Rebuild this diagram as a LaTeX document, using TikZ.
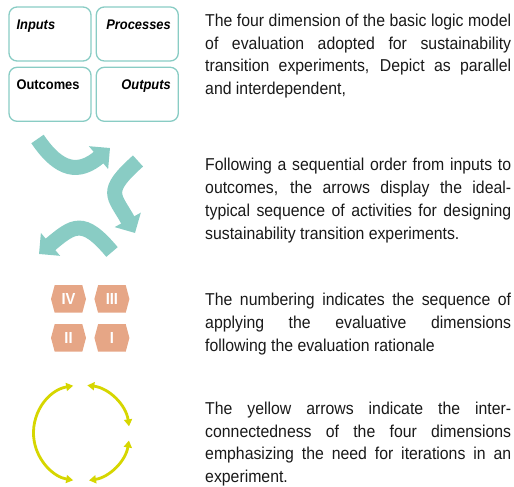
\documentclass[tikz,border=0pt]{standalone}
\usepackage{fontspec}
\setmainfont{Liberation Sans}[FakeStretch=0.92]
\usepackage{tikz}
\usetikzlibrary{arrows.meta,positioning,shapes.symbols}
\definecolor{logicteal}{RGB}{137,204,196}
\definecolor{stepsalmon}{RGB}{230,166,134}
\definecolor{loopyellow}{RGB}{214,214,0}

\begin{document}
\begin{tikzpicture}[x=1pt, y=1pt,
  dim/.style={rectangle, rounded corners=8pt, draw=logicteal, line width=1.3pt,
    minimum width=82pt, minimum height=54pt, inner sep=0pt},
  dimtag/.style={font=\fontsize{14}{16}\selectfont\bfseries, inner xsep=8pt, inner ysep=13pt},
  note/.style={text width=306pt, align=justify, inner sep=0pt, anchor=base west, text=black!90,
    font=\fontsize{17.2}{22.7}\selectfont,
    execute at begin node={\tolerance=10000\relax\hyphenpenalty=10000\relax}},
  tile/.style={signal, signal to=west and east, signal pointer angle=150, fill=stepsalmon,
    text=white, minimum width=35pt, text height=11.5pt, text depth=0pt, inner ysep=8pt,
    inner xsep=0pt, font=\fontsize{16}{16}\selectfont\bfseries},
  flow/.style={logicteal, line width=15pt, -{Triangle[width=29pt, length=15pt]}},
  loop/.style={loopyellow, line width=2.8pt,
    {Triangle[width=8pt, length=7pt]}-{Triangle[width=8pt, length=7pt]}}]
\useasboundingbox (0,0) rectangle (514,487);

% logic model: four dimensions
\node[dim] (inp) at (50,453) {};
\node[dim, right=4pt of inp] (proc) {};
\node[dim, below=5pt of inp] (outc) {};
\node[dim, right=4pt of outc] (outp) {};
\node[dimtag, anchor=north west] (inptag) at (inp.north west) {\itshape Inputs};
\node[dimtag, anchor=north east] (proctag) at (proc.north east) {\itshape Processes};
\node[dimtag, anchor=north west] (outctag) at (outc.north west) {Outcomes};
\node[dimtag, anchor=north east] (outptag) at (outp.north east) {\itshape Outputs};

% sequence arrows
\draw[flow] (37.5,348) .. controls (59.9,314.8) and (79.4,313.3) .. (110,339);
\draw[flow] (138,326) .. controls (103,294.7) and (114,292) .. (135,254);
\draw[flow] (112,235) .. controls (83.1,269.5) and (73.5,261.9) .. (39,233);

% numbering
\node[tile] (t4) at (68.5,188) {IV};
\node[tile, right=8pt of t4] (t3) {III};
\node[tile, below=11pt of t4] (t2) {II};
\node[tile, right=8pt of t2] (t1) {I};

% iteration loop
\coordinate (hub) at (81.5,54);
\draw[loop] ([shift={(100:48)}]hub) arc[start angle=100, end angle=260, radius=48];
\draw[loop] ([shift={(83:48)}]hub) arc[start angle=83, end angle=8, radius=48];
\draw[loop] ([shift={(-9:48)}]hub) arc[start angle=-9, end angle=-81, radius=48];

% explanations
\node[note] (n1) at (205,460.5) {The four dimension of the basic logic model\linebreak
  of evaluation adopted for sustainability\linebreak
  transition experiments, Depict as parallel\linebreak
  and interdependent,};
\node[note] (n2) at (205,316) {Following a sequential order from inputs to\linebreak
  outcomes, the arrows display the ideal-\linebreak
  typical sequence of activities for designing\linebreak
  sustainability transition experiments.};
\node[note] (n3) at (205,181) {The numbering indicates the sequence of\linebreak
  applying the evaluative dimensions\linebreak
  following the evaluation rationale};
\node[note] (n4) at (205,72.5) {The yellow arrows indicate the inter-\linebreak
  connectedness of the four dimensions\linebreak
  emphasizing the need for iterations in an\linebreak
  experiment.};
\end{tikzpicture}
\end{document}
